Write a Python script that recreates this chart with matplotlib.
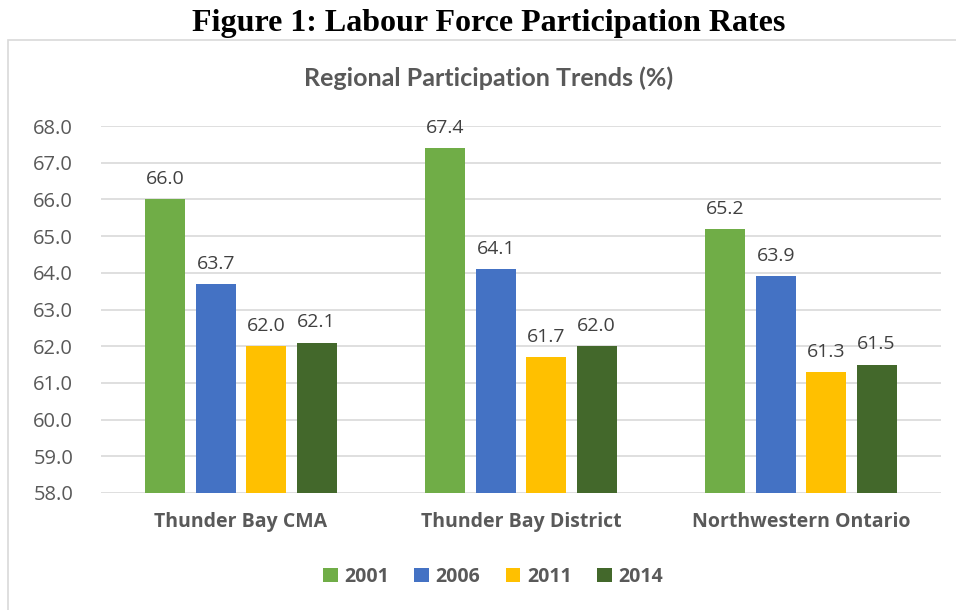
import matplotlib
matplotlib.use("Agg")
import matplotlib.pyplot as plt
from matplotlib.patches import Rectangle
import numpy as np

categories = ["Thunder Bay CMA", "Thunder Bay District", "Northwestern Ontario"]
years = ["2001", "2006", "2011", "2014"]
values = {
    "2001": [66.0, 67.4, 65.2],
    "2006": [63.7, 64.1, 63.9],
    "2011": [62.0, 61.7, 61.3],
    "2014": [62.1, 62.0, 61.5],
}
colors = ["#70AD47", "#4472C4", "#FFC000", "#43682B"]
yticks = [58.0, 59.0, 60.0, 61.0, 62.0, 63.0, 64.0, 65.0, 66.0, 67.0, 68.0]

W, H = 956, 610
fig = plt.figure(figsize=(W / 100, H / 100), dpi=100)
sans = ["Open Sans", "DejaVu Sans"]
narrow = ["Lato", "DejaVu Sans"]
gray = "#595959"

# chart border
fig.patches.append(Rectangle((8 / W, -0.01), 1.2, (H - 40) / H + 0.01, transform=fig.transFigure,
                             fill=False, edgecolor="#D9D9D9", linewidth=1.2))

fig.text(489 / W, 1 - 23 / H, "Figure 1: Labour Force Participation Rates",
         ha="center", va="center", family="Liberation Serif", fontweight="bold", fontsize=23)
fig.text(489 / W, 1 - 78 / H, "Regional Participation Trends (%)",
         ha="center", va="center", family=narrow, fontweight="bold", fontsize=18, color=gray)

ax = fig.add_axes([101 / W, 1 - 493 / H, (941 - 101) / W, (493 - 126) / H])
x = np.arange(len(categories))
bw = 0.143
step = 0.18
for i, (yr, c) in enumerate(zip(years, colors)):
    xs = x + (i - 1.5) * step
    vals = values[yr]
    ax.bar(xs, [v - 58.0 for v in vals], bottom=58.0, width=bw, color=c, label=yr, zorder=3)
    for xi, v in zip(xs, vals):
        ax.annotate(f"{v:.1f}", (xi, v), xytext=(0, 8), textcoords="offset points",
                    ha="center", va="bottom", family=sans, fontsize=14, color="#404040")

ax.set_xlim(-0.5, len(categories) - 0.5)
ax.set_ylim(58.0, 68.0)
ax.set_yticks(yticks)
ax.set_yticklabels([f"{t:.1f}" for t in yticks], family=sans, fontsize=14.5, color=gray)
ax.set_xticks(x)
ax.set_xticklabels(categories, family=sans, fontsize=14, fontweight="bold", color=gray)
ax.tick_params(axis="both", length=0)
ax.tick_params(axis="y", pad=20)
ax.tick_params(axis="x", pad=14)
ax.grid(axis="y", color="#D9D9D9", linewidth=1.2, zorder=0)
for s in ax.spines.values():
    s.set_visible(False)

leg = fig.legend(loc="center", bbox_to_anchor=(493 / W, 1 - 577 / H), ncol=4, frameon=False,
                 prop={"family": sans, "weight": "bold", "size": 14},
                 handlelength=0.75, handleheight=0.75, handletextpad=0.35, columnspacing=1.3)
for t in leg.get_texts():
    t.set_color(gray)

fig.savefig("out.png", dpi=100)
